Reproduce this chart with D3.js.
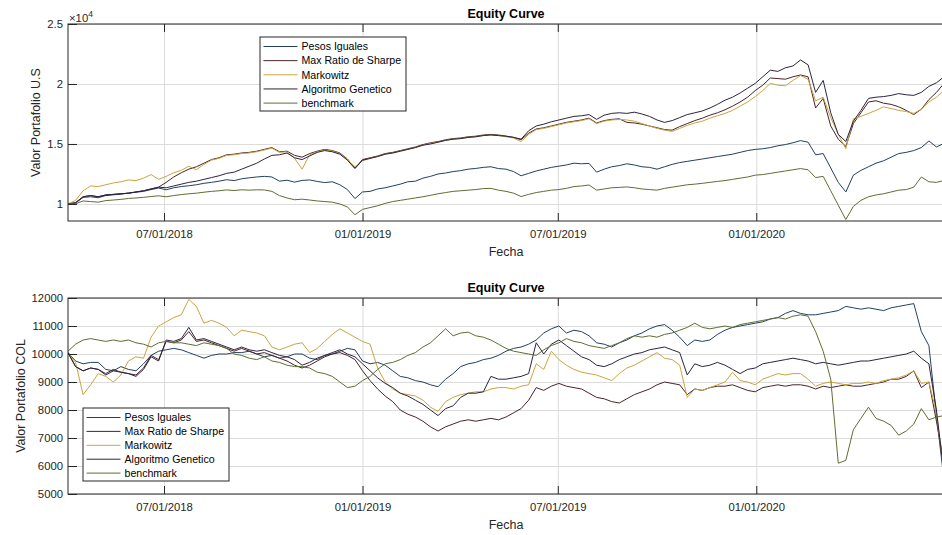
<!DOCTYPE html>
<html>
<head>
<meta charset="utf-8">
<script src="https://cdn.jsdelivr.net/npm/d3@7"></script>
<style>
body { margin: 0; background: #fff; }
svg { font-family: "Liberation Sans", Arial, Helvetica, sans-serif; }
</style>
</head>
<body>
<script>
var width = 942;
var height = 535;

var seriesNames = ["Pesos Iguales", "Max Ratio de Sharpe", "Markowitz", "Algoritmo Genetico", "benchmark"];
var colors = ["#23405f", "#4b2328", "#c9a53f", "#2b2440", "#5f6d32"];

// weekly points, the first one on 2018-04-03
var startDate = "2018-04-03";
var endDate = "2020-06-23";
var xTicks = ["2018-07-01", "2019-01-01", "2019-07-01", "2020-01-01"];
var usTicks = [10000, 15000, 20000, 25000];
var colTicks = [5000, 6000, 7000, 8000, 9000, 10000, 11000, 12000];

// -- portafolio U.S --
var usPesos = [10000,10080,10550,10600,10520,10700,10760,10820,10900,10980,
  11050,11200,11330,11180,11350,11450,11520,11600,11720,11800,
  11900,12020,11950,12100,12180,12250,12300,12250,11900,11980,
  11820,11960,12000,11880,11780,11850,11600,11200,10450,11000,
  11050,11250,11350,11500,11650,11850,11900,12150,12300,12500,
  12580,12700,12780,12900,12960,13050,13100,12950,12900,12700,
  12350,12550,12750,12900,13050,13150,13250,13400,13350,13380,
  12650,12900,13100,13200,13350,13250,13100,13050,12900,13100,
  13300,13450,13550,13650,13750,13850,13950,14050,14150,14300,
  14450,14550,14600,14700,14850,14950,15100,15280,15150,14100,
  14200,13000,11800,11000,12400,12800,13100,13400,13600,13900,
  14200,14300,14450,14700,15250,14750,15050];
var usSharpe = [10000,10100,10600,10700,10600,10750,10800,10850,10900,11000,
  11100,11250,11400,11800,12250,12600,12900,13100,13400,13700,
  13850,14100,14150,14250,14300,14400,14550,14700,14350,14400,
  14050,13900,14200,14400,14550,14450,14250,13750,13000,13700,
  13850,14000,14200,14300,14450,14600,14750,14950,15100,15200,
  15350,15450,15500,15600,15650,15750,15800,15750,15650,15550,
  15350,15900,16250,16350,16500,16650,16800,16900,17000,17150,
  16750,16950,17050,17100,16800,16750,16650,16500,16350,16200,
  16150,16450,16700,16950,17150,17400,17600,17850,18150,18500,
  18900,19450,19900,20500,20450,20400,20600,20750,20600,18000,
  18800,16500,15400,14800,16700,17600,18500,18600,18400,18300,
  18100,17800,17450,17900,18700,19300,20050];
var usMarkowitz = [10000,10300,11100,11500,11450,11600,11750,11850,12000,11950,
  12150,12450,12050,12300,12600,12800,13150,12850,13300,13650,
  13800,14050,14100,14200,14250,14350,14500,14650,14300,14350,
  13800,12900,14100,14350,14500,14400,14200,13700,13100,13600,
  13800,13950,14150,14250,14400,14550,14700,14900,15050,15150,
  15300,15400,15450,15550,15600,15700,15750,15700,15600,15500,
  15200,15800,16200,16300,16450,16600,16750,16850,16950,17100,
  16700,16900,17000,17050,17000,16900,16700,16500,16300,16150,
  16050,16300,16550,16750,16900,17150,17350,17550,17800,18150,
  18500,18950,19450,20050,19900,19850,20300,20700,20400,18600,
  18900,17200,15800,14600,17100,17300,17550,17800,18100,17950,
  17800,17700,17550,17900,18500,18900,19450];
var usGenetico = [10000,10100,10600,10700,10600,10750,10800,10850,10900,11000,
  11100,11250,11400,11350,11500,11650,11800,11900,12050,12200,
  12350,12550,12650,12900,13150,13400,13750,14050,14100,14250,
  13850,13700,14000,14300,14450,14350,14150,13650,12950,13650,
  13800,13950,14150,14250,14400,14550,14700,14900,15000,15150,
  15300,15400,15450,15550,15600,15700,15750,15700,15650,15550,
  15400,16100,16500,16650,16850,17000,17150,17300,17350,17450,
  17050,17400,17550,17600,17550,17650,17500,17300,17000,16800,
  16950,17200,17450,17600,17750,18000,18300,18650,18900,19250,
  19650,20050,20600,21150,21050,21350,21500,22000,21600,19300,
  20300,17600,15800,15200,16900,17800,18800,18900,18950,19050,
  19200,19100,19050,19300,19800,20100,20600];
var usBenchmark = [10000,10020,10250,10200,10150,10280,10330,10380,10460,10500,
  10550,10620,10680,10600,10700,10780,10850,10900,10980,11050,
  11100,11170,11120,11180,11150,11180,11170,11050,10700,10500,
  10350,10400,10330,10250,10200,10150,10000,9750,9100,9550,
  9700,9850,10050,10200,10300,10400,10500,10600,10720,10850,
  10950,11050,11100,11150,11200,11280,11300,11150,11050,10900,
  10620,10800,10950,11050,11150,11200,11300,11450,11500,11580,
  11150,11250,11350,11380,11420,11350,11250,11200,11150,11300,
  11400,11500,11600,11650,11720,11800,11880,11950,12050,12150,
  12250,12400,12450,12550,12650,12750,12850,12950,12850,12200,
  12300,11100,9900,8700,9800,10300,10600,10750,10850,11000,
  11150,11200,11400,12250,11850,11800,11950];

// -- portafolio COL --
var colPesos = [10050,9750,9650,9700,9700,9450,9400,9550,9450,9400,
  9650,9950,10100,10150,10200,10150,10050,9950,9850,9950,
  10000,10000,10050,10050,10100,10000,9900,9950,9850,9900,
  10000,10000,9850,9800,9950,10000,10100,10200,10150,9750,
  9650,9700,9600,9400,9200,9150,9050,9000,8900,8830,
  9100,9300,9550,9650,9700,9800,9850,9950,10100,10200,
  10250,10350,10500,10750,10900,11000,10750,10850,10800,10650,
  10400,10350,10250,10400,10500,10650,10750,10900,11000,11050,
  10850,10600,10300,10500,10450,10500,10700,10850,10950,11000,
  11050,11100,11150,11250,11300,11450,11550,11450,11400,11400,
  11450,11500,11550,11700,11650,11600,11650,11600,11550,11650,
  11700,11750,11800,10800,10300,7800,5500];
var colSharpe = [10050,9550,9400,9500,9450,9300,9450,9350,9300,9250,
  9500,9950,9800,10450,10400,10500,10800,10450,10500,10400,
  10300,10200,10100,10200,10100,10000,10050,9950,9850,9750,
  9600,9500,9600,9750,9900,10000,10050,9950,9800,9400,
  9050,8750,8500,8300,8000,7850,7750,7600,7400,7250,
  7400,7500,7600,7650,7600,7650,7700,7650,7750,7900,
  8050,8350,8800,8700,8850,8950,8850,8800,8750,8600,
  8450,8400,8300,8250,8400,8550,8650,8750,8900,9000,
  8950,8900,8550,8750,8700,8800,8850,8850,8900,8800,
  8700,8650,8800,8850,8900,8850,8900,8900,8850,8750,
  8850,8800,8850,8900,8850,8850,8900,8950,9000,9100,
  9100,9200,9400,8800,9000,7600,6100];
var colMarkowitz = [10050,9700,8550,8900,9300,9200,9000,9250,9750,9900,
  9850,10600,11000,11150,11300,11400,11950,11700,11100,11200,
  11100,10950,10650,10850,10800,10750,10650,10250,10150,10250,
  10350,10400,10050,10200,10450,10700,10900,10750,10600,10450,
  10350,9500,9000,8750,8600,8550,8500,8350,8100,7950,
  8300,8450,8550,8600,8650,8650,8750,8800,8800,8750,
  8850,8900,9650,9450,10100,9800,9600,9450,9350,9300,
  9250,9150,9050,9300,9500,9600,9750,9900,10050,9850,
  9800,9600,8450,8750,8700,8800,8900,9000,9350,9050,
  9000,8900,9100,9200,9300,9250,9300,9300,9100,8850,
  8950,9000,8950,8900,8950,8950,9000,8950,9050,9100,
  9150,9250,9400,8950,9000,7900,5800];
var colGenetico = [10050,9550,9400,9500,9450,9250,9400,9350,9300,9200,
  9450,9900,9750,10500,10450,10550,10950,10500,10550,10450,
  10350,10250,10150,10250,10150,10100,10150,10050,9950,9900,
  9800,9600,9700,9850,9950,10050,10150,10000,9900,9650,
  9400,9150,8950,8800,8600,8500,8350,8200,8000,7800,
  8050,8150,8450,8600,8600,8650,9200,9100,9100,9150,
  9200,9300,10400,10000,10350,10500,10300,10100,9900,9800,
  9600,9550,9650,9800,9900,10000,10050,10150,10200,10250,
  10150,10050,9250,9650,9550,9600,9700,9600,9450,9300,
  9450,9500,9650,9700,9750,9800,9850,9800,9750,9650,
  9700,9650,9600,9650,9700,9750,9750,9800,9850,9900,
  9950,10000,10100,9850,9650,8000,5700];
var colBenchmark = [10100,10350,10500,10550,10500,10450,10500,10450,10500,10400,
  10350,10250,10400,10450,10400,10400,10350,10300,10400,10350,
  10300,10200,10000,9950,9850,9800,9900,9750,9700,9600,
  9550,9550,9500,9350,9300,9200,9000,8800,8850,9050,
  9200,9450,9650,9700,9800,9950,10050,10250,10400,10650,
  10900,10650,10750,10780,10650,10600,10500,10350,10200,10100,
  10050,10000,9950,10150,10300,10400,10550,10450,10400,10300,
  10250,10200,10300,10400,10550,10650,10600,10650,10600,10700,
  10750,10850,10950,11100,10950,10900,10950,11000,10950,11050,
  11100,11150,11200,11250,11300,11250,11350,11400,11350,10800,
  10100,9100,6100,6200,7300,7700,8100,7700,7600,7450,
  7100,7250,7500,8050,7650,7750,7800];

var parseDate = d3.timeParse("%Y-%m-%d");
var start = parseDate(startDate);
var dates = usPesos.map(function(d, i) { return d3.timeDay.offset(start, 7 * i); });

var svg = d3.select("body").append("svg")
    .attr("width", width)
    .attr("height", height);

var left = 68, right = 944;
var xScale = d3.scaleTime()
    .domain([start, parseDate(endDate)])
    .range([left, right]);
var tickDates = xTicks.map(parseDate);

function drawPanel(p) {
  var yScale = d3.scaleLinear().domain(p.yDomain).range([p.bottom, p.top]);
  var h = p.bottom - p.top;
  var g = svg.append("g");

  // grid
  g.append("g")
    .attr("transform", "translate(0," + p.bottom + ")")
    .call(d3.axisBottom(xScale).tickValues(tickDates).tickSize(-h).tickFormat(""))
    .call(function(s) { s.select(".domain").remove(); s.selectAll("line").attr("stroke", "#dcdcdc"); });
  g.append("g")
    .attr("transform", "translate(" + left + ",0)")
    .call(d3.axisLeft(yScale).tickValues(p.ticks).tickSize(-(right - left)).tickFormat(""))
    .call(function(s) { s.select(".domain").remove(); s.selectAll("line").attr("stroke", "#dcdcdc"); });

  var clipId = "clip" + p.top;
  svg.append("clipPath").attr("id", clipId)
    .append("rect").attr("x", left).attr("y", p.top).attr("width", right - left).attr("height", h);

  var linePath = d3.line()
    .x(function(d, i) { return xScale(dates[i]); })
    .y(function(d) { return yScale(d); });

  g.append("g").attr("clip-path", "url(#" + clipId + ")")
    .selectAll("path")
    .data(p.series)
    .enter()
    .append("path")
    .attr("d", function(d) { return linePath(d); })
    .attr("fill", "none")
    .attr("stroke-width", 1)
    .attr("stroke-linejoin", "round")
    .attr("stroke", function(d, i) { return colors[i]; });

  // box
  g.append("rect")
    .attr("x", left).attr("y", p.top)
    .attr("width", right - left).attr("height", h)
    .attr("fill", "none").attr("stroke", "#262626").attr("stroke-width", 1);

  // axes, ticks pointing in
  var xAxis = g.append("g")
    .attr("transform", "translate(0," + p.bottom + ")")
    .call(d3.axisBottom(xScale).tickValues(tickDates).tickSize(-8).tickPadding(8.5)
      .tickFormat(d3.timeFormat("%m/%d/%Y")));
  var xTop = g.append("g")
    .attr("transform", "translate(0," + p.top + ")")
    .call(d3.axisTop(xScale).tickValues(tickDates).tickSize(-8).tickFormat(""));
  var yAxis = g.append("g")
    .attr("transform", "translate(" + left + ",0)")
    .call(d3.axisLeft(yScale).tickValues(p.ticks).tickSize(-9).tickPadding(5).tickFormat(p.format));
  [xAxis, xTop, yAxis].forEach(function(a) {
    a.select(".domain").remove();
    a.selectAll("line").attr("stroke", "#262626");
    a.selectAll("text").attr("font-size", 11.3).attr("fill", "#262626")
      .attr("font-family", "'Liberation Sans', Arial, sans-serif");
  });

  // title and labels
  g.append("text")
    .attr("x", (left + right) / 2).attr("y", p.top - 6)
    .attr("text-anchor", "middle").attr("font-size", 12.5).attr("font-weight", "bold")
    .attr("fill", "#000")
    .text("Equity Curve");
  g.append("text")
    .attr("x", (left + right) / 2).attr("y", p.bottom + 34.5)
    .attr("text-anchor", "middle").attr("font-size", 12.5).attr("fill", "#262626")
    .text("Fecha");
  g.append("text")
    .attr("transform", "translate(" + p.yLabelX + "," + (p.top + p.bottom) / 2 + ") rotate(-90)")
    .attr("text-anchor", "middle").attr("font-size", 12.5).attr("fill", "#262626")
    .text(p.yLabel);

  // legend
  var lg = g.append("g").attr("transform", "translate(" + p.legend[0] + "," + p.legend[1] + ")");
  lg.append("rect")
    .attr("width", 146).attr("height", p.legendH)
    .attr("fill", "#fff").attr("stroke", "#262626").attr("stroke-width", 1);
  var rows = lg.selectAll(".row")
    .data(seriesNames)
    .enter()
    .append("g")
    .attr("class", "row")
    .attr("transform", function(d, i) { return "translate(0," + (9.5 + i * p.legendStep) + ")"; });
  rows.append("line")
    .attr("x1", 3.5).attr("x2", 37.5)
    .attr("stroke", function(d, i) { return colors[i]; })
    .attr("stroke-width", 1);
  rows.append("text")
    .attr("x", 41.5).attr("dy", "0.36em")
    .attr("font-size", 10.6).attr("fill", "#000")
    .text(function(d) { return d; });

  return g;
}

var topPanel = drawPanel({
  top: 24, bottom: 221,
  yDomain: [8580, 25000],
  ticks: usTicks,
  format: function(d) { return d3.format("")(d / 10000); },
  series: [usPesos, usSharpe, usMarkowitz, usGenetico, usBenchmark],
  yLabel: "Valor Portafolio U.S",
  yLabelX: 40,
  legend: [260, 37], legendH: 74, legendStep: 14.15
});

// exponent over the y axis
var expo = topPanel.append("text")
  .attr("x", 69).attr("y", 22)
  .attr("font-size", 11.3).attr("fill", "#262626");
expo.append("tspan").text("\u00d710");
expo.append("tspan").attr("dy", -5).attr("font-size", 8.5).text("4");

drawPanel({
  top: 298, bottom: 494,
  yDomain: [5000, 12000],
  ticks: colTicks,
  format: d3.format("d"),
  series: [colPesos, colSharpe, colMarkowitz, colGenetico, colBenchmark],
  yLabel: "Valor Portafolio COL",
  yLabelX: 25,
  legend: [83, 408], legendH: 73, legendStep: 13.9
});
</script>
</body>
</html>
